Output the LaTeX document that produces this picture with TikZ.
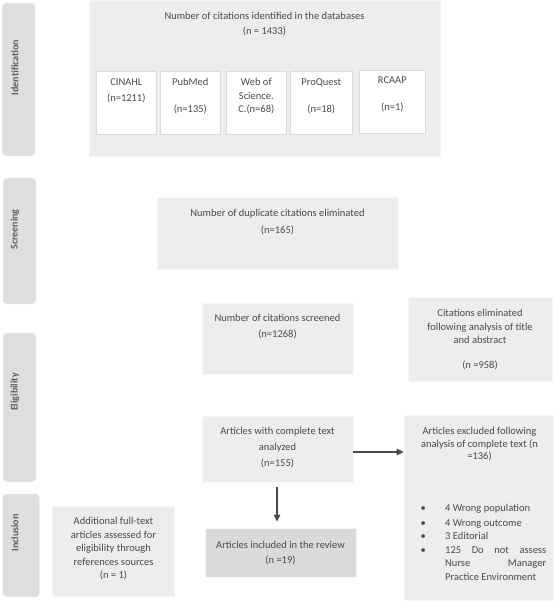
\documentclass[tikz,border=0pt]{standalone}
\usepackage{fontspec}
\setmainfont{Carlito}
\usetikzlibrary{arrows.meta}

\definecolor{boxgrey}{HTML}{EDEDED}
\definecolor{boxedge}{HTML}{F6F6F6}
\definecolor{sidegrey}{HTML}{DEDEDE}
\definecolor{finalgrey}{HTML}{DADADA}
\definecolor{txtgrey}{HTML}{4A4A4A}
\definecolor{sidetxt}{HTML}{5E5E5E}
\definecolor{dbedge}{HTML}{DCDCDC}

\begin{document}
\begin{tikzpicture}[
    x=1pt, y=-1pt,
    font=\fontsize{10.5}{13.5}\selectfont,
    box/.style={rectangle, fill=boxgrey, draw=boxedge, line width=0.8pt, inner sep=0},
    dbbox/.style={rectangle, fill=white, draw=dbedge, line width=0.6pt, inner sep=0},
    phase/.style={rectangle, rounded corners=4pt, fill=sidegrey, draw=boxedge, inner sep=0, minimum width=33},
    phasetxt/.style={rotate=90, text=sidetxt, font=\fontsize{10}{12}\selectfont\bfseries},
    txt/.style={align=center, text=txtgrey, inner sep=0},
    arr/.style={-{Triangle[length=7pt,width=6.5pt]}, line width=1.4pt, draw=txtgrey}
]

\useasboundingbox (0,0) rectangle (556,612);

% ============================================
% FASES (columna izquierda)
% ============================================
\node[phase, minimum height=153] (pident)  at (18.5,79.5)  {};
\node[phase, minimum height=126] (pscreen) at (19.5,241)   {};
\node[phase, minimum height=149] (pelig)   at (19.5,407.5) {};
\node[phase, minimum height=103, minimum width=37] (pincl) at (21,545.5) {};

\node[phasetxt] (tident)  at (15,67.5)  {Identification};
\node[phasetxt] (tscreen) at (15,229.5) {Screening};
\node[phasetxt] (telig)   at (15,392)   {Eligibility};
\node[phasetxt] (tincl)   at (15,533)   {Inclusion};

% ============================================
% IDENTIFICACIÓN
% ============================================
\node[box, minimum width=351, minimum height=156] (ident) at (264.5,78) {};
\node[txt] (identtxt) at (264.5,24.5) {Number of citations identified in the databases\\[1.5pt](n = 1433)};

% Bases de datos
\node[dbbox, minimum width=59.5, minimum height=63] (cinahl)   at (126.3,102.5) {};
\node[dbbox, minimum width=59.5, minimum height=63] (pubmed)   at (190.3,102.5) {};
\node[dbbox, minimum width=59.5, minimum height=63] (wos)      at (256.3,102.5) {};
\node[dbbox, minimum width=62.5, minimum height=63] (proquest) at (321.3,102.5) {};
\node[dbbox, minimum width=66.5, minimum height=63] (rcaap)    at (392.3,101.5) {};

\node[txt] (cinahltxt)   at (126.3,91)   {CINAHL\\[2.5pt](n=1211)};
\node[txt] (pubmedtxt)   at (190.3,96.5) {PubMed\\[13.5pt](n=135)};
\node[txt] (wostxt)      at (256.3,96.5) {Web of\\Science.\\C.(n=68)};
\node[txt] (proquesttxt) at (321.3,96.5) {ProQuest\\[13.5pt](n=18)};
\node[txt] (rcaaptxt)    at (392.3,94.5) {RCAAP\\[13.5pt](n=1)};

% ============================================
% SELECCIÓN
% ============================================
\node[box, minimum width=241, minimum height=72] (dup) at (277.5,233) {};
\node[txt] (duptxt) at (277.5,222.5) {Number of duplicate citations eliminated\\[3.5pt](n=165)};

% ============================================
% ELEGIBILIDAD
% ============================================
\node[box, minimum width=151, minimum height=71] (screened) at (277.5,338.5) {};
\node[txt] (screenedtxt) at (277.5,327) {Number of citations screened\\[2.5pt](n=1268)};

\node[box, minimum width=144, minimum height=84] (elim) at (480,339) {};
\node[txt] (elimtxt) at (480,340) {Citations eliminated\\following analysis of title\\and abstract\\[11.5pt](n =958)};

\node[box, minimum width=151, minimum height=66] (articles) at (277.5,449) {};
\node[txt] (articlestxt) at (277.5,448) {Articles with complete text\\[2.5pt]analyzed\\[2.5pt](n=155)};

\node[box, minimum width=149, minimum height=185] (excl) at (478.5,507.5) {};
\node[txt] (excltxt) at (479.5,444.5) {Articles excluded following\\[-1pt]analysis of complete text (n\\[-1pt]=136)};
\node[txt, anchor=west, align=left] (excllist) at (420.4,543) {%
  \begin{tabular}{@{}p{24.6pt}@{}p{101pt}@{}}
  \textbullet & 4 Wrong population\\[1.5pt]
  \textbullet & 4 Wrong outcome\\
  \textbullet & 3 Editorial\\
  \textbullet & 125\hfill Do\hfill not\hfill assess\\
              & Nurse\hfill Manager\\
              & Practice Environment
  \end{tabular}};

% ============================================
% INCLUSIÓN
% ============================================
\node[box, minimum width=122.5, minimum height=90] (addl) at (113.5,551) {};
\node[txt] (addltxt) at (113.5,549) {Additional full-text\\articles assessed for\\eligibility through\\references sources\\(n = 1)};

\node[box, fill=finalgrey, minimum width=151, minimum height=49] (incl) at (280.5,552.5) {};
\node[txt] (incltxt) at (280.5,553.5) {Articles included in the review\\[1.5pt](n =19)};

% Flechas
\draw[arr] ([yshift=-3pt]articles.east) -- ([yshift=-3pt]articles.east -| excl.west);
\draw[arr, shorten <=5pt, shorten >=6pt] (articles.south -| 277,0) -- (incl.north -| 277,0);

\end{tikzpicture}
\end{document}
